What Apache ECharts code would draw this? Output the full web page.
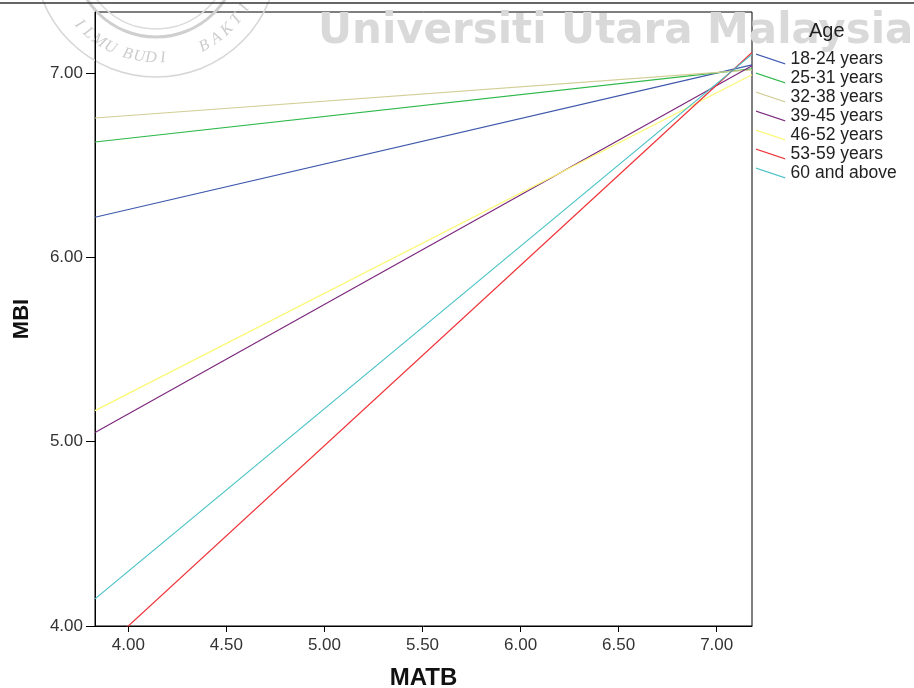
<!DOCTYPE html>
<html>
<head>
<meta charset="utf-8">
<title>MBI by MATB - fit lines by age group</title>
<script src="https://cdn.jsdelivr.net/npm/echarts@6/dist/echarts.min.js"></script>
<style>
  html, body { margin: 0; padding: 0; background: #fff; }
  #chart { width: 914px; height: 688px; }
</style>
</head>
<body>
<div id="chart"></div>
<script>
// Age groups and their fit lines (MBI predicted at the ends of the MATB range)
const ageGroups = ['18-24 years', '25-31 years', '32-38 years', '39-45 years', '46-52 years', '53-59 years', '60 and above'];
const matbRange = [3.83, 7.18];
const mbiAtMin = [6.217, 6.625, 6.755, 5.049, 5.168, 3.834, 4.147];
const mbiAtMax = [7.043, 7.022, 7.016, 7.038, 6.990, 7.110, 7.100];
const xTicks = [4.0, 4.5, 5.0, 5.5, 6.0, 6.5, 7.0];
const yTicks = [4.0, 5.0, 6.0, 7.0];
const groupColors = ['#3E58AC', '#2EB848', '#D3CE97', '#7C287D', '#FBF873', '#EF3338', '#48C2C5'];

const font = 'Liberation Sans, Arial, sans-serif';

const series = ageGroups.map((name, i) => ({
  name: name,
  type: 'line',
  data: [[matbRange[0], mbiAtMin[i]], [matbRange[1], mbiAtMax[i]]],
  showSymbol: false,
  clip: true,
  lineStyle: { color: groupColors[i], width: 1.2 },
  itemStyle: { color: groupColors[i] },
  emphasis: { disabled: true },
  z: 3
}));

// Watermark crest: letters placed along the lower arc of the seal
const crest = { cx: 156, cy: -45, r: 103 };
const crestWords = [
  { text: 'ILMU', start: -48, step: 7.2 },
  { text: 'BUDI', start: -16, step: 6.6 },
  { text: 'BAKTI', start: 28, step: 7.8 }
];
const crestLetters = [];
crestWords.forEach(w => {
  w.text.split('').forEach((ch, k) => {
    const phi = (w.start + k * w.step) * Math.PI / 180;
    crestLetters.push({
      type: 'text',
      x: crest.cx + crest.r * Math.sin(phi),
      y: crest.cy + crest.r * Math.cos(phi),
      rotation: phi,
      silent: true,
      z: 0,
      style: {
        text: ch,
        font: 'italic 16px "Liberation Serif", "DejaVu Serif", serif',
        fill: '#cccccc',
        align: 'center',
        verticalAlign: 'middle'
      }
    });
  });
});

const option = {
  animation: false,
  backgroundColor: '#ffffff',
  title: {
    text: 'Age',
    left: 804,
    top: 16,
    textStyle: { fontFamily: font, fontSize: 20, fontWeight: 'normal', color: '#222' }
  },
  legend: {
    orient: 'vertical',
    left: 751,
    top: 45,
    itemWidth: 30,
    itemHeight: 11,
    itemGap: 1,
    icon: 'path://M0,0L30,10L30,11.3L0,1.3Z',
    selectedMode: false,
    textStyle: { fontFamily: font, fontSize: 17.5, color: '#222' },
    data: ageGroups
  },
  grid: {
    left: 95,
    right: 162,
    top: 12,
    bottom: 62,
    outerBoundsMode: 'none',
    containLabel: false,
    show: true,
    borderColor: '#000',
    borderWidth: 1,
    backgroundColor: 'transparent'
  },
  xAxis: {
    type: 'value',
    min: matbRange[0],
    max: matbRange[1],
    name: 'MATB',
    nameLocation: 'middle',
    nameGap: 40,
    nameTextStyle: { fontFamily: font, fontSize: 24, fontWeight: 'bold', color: '#111' },
    splitLine: { show: false },
    axisLine: { show: true, lineStyle: { color: '#000', width: 1 } },
    axisTick: { show: true, length: 6, customValues: xTicks, lineStyle: { color: '#000' } },
    axisLabel: {
      customValues: xTicks,
      formatter: v => v.toFixed(2),
      fontFamily: font,
      fontSize: 17,
      color: '#333',
      margin: 11
    }
  },
  yAxis: {
    type: 'value',
    min: 4,
    max: 7.33,
    name: 'MBI',
    nameLocation: 'middle',
    nameGap: 62,
    nameRotate: 90,
    nameTextStyle: { fontFamily: font, fontSize: 22, fontWeight: 'bold', color: '#111' },
    splitLine: { show: false },
    axisLine: { show: true, lineStyle: { color: '#000', width: 1 } },
    axisTick: { show: true, length: 9, customValues: yTicks, lineStyle: { color: '#000' } },
    axisLabel: {
      customValues: yTicks,
      formatter: v => v.toFixed(2),
      fontFamily: font,
      fontSize: 17,
      color: '#333',
      margin: 12
    }
  },
  graphic: [
    // rule across the top of the page
    { type: 'line', silent: true, z: 10, shape: { x1: 0, y1: 3, x2: 914, y2: 3 }, style: { stroke: '#333', lineWidth: 1.5 } },
    // seal rings
    { type: 'circle', silent: true, z: 0, shape: { cx: crest.cx, cy: crest.cy, r: 122 }, style: { fill: 'none', stroke: '#d6d6d6', lineWidth: 1.5 } },
    { type: 'circle', silent: true, z: 0, shape: { cx: crest.cx, cy: crest.cy, r: 82 }, style: { fill: 'none', stroke: '#cfcfcf', lineWidth: 3 } },
    { type: 'circle', silent: true, z: 0, shape: { cx: crest.cx, cy: crest.cy, r: 74 }, style: { fill: 'none', stroke: '#dcdcdc', lineWidth: 1.5 } },
    ...crestLetters,
    // university name watermark
    {
      type: 'text',
      silent: true,
      z: 0,
      x: 318,
      y: 53,
      scaleX: 1.11,
      style: {
        text: 'Universiti Utara Malaysia',
        font: 'bold 42px "DejaVu Sans Condensed", "Liberation Sans Narrow", "Liberation Sans", sans-serif',
        fill: '#d9d9d9',
        align: 'left',
        verticalAlign: 'bottom'
      }
    }
  ],
  series: series
};

const chart = echarts.init(document.getElementById('chart'), null, { renderer: 'canvas' });
chart.setOption(option);
</script>
</body>
</html>
